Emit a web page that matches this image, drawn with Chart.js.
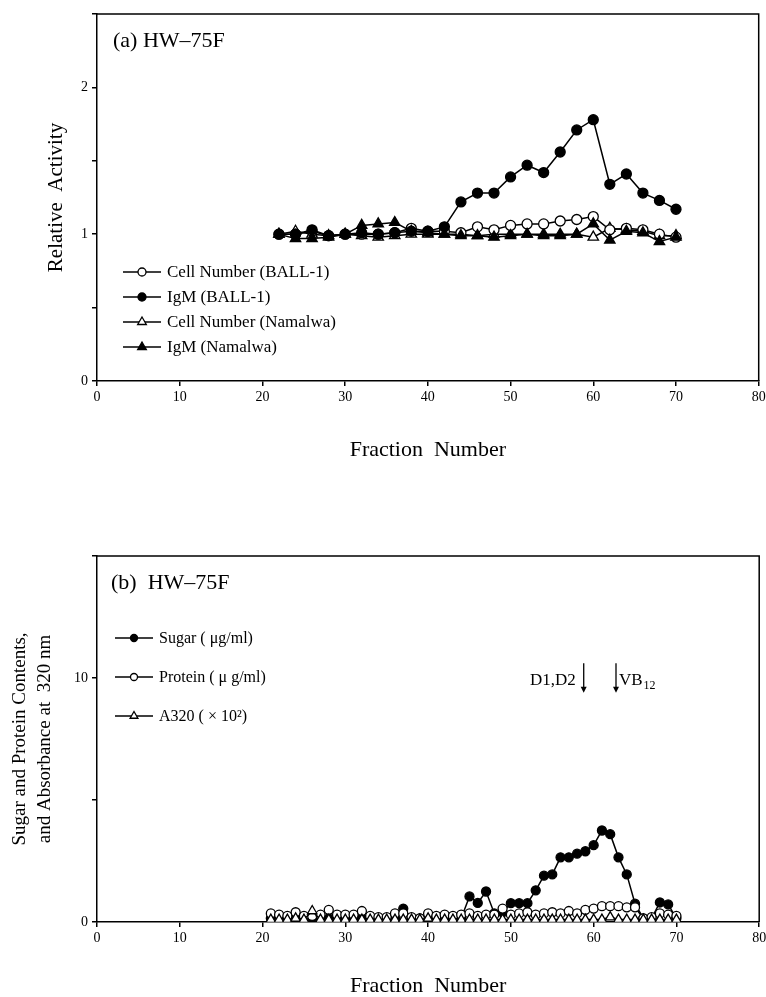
<!DOCTYPE html>
<html>
<head>
<meta charset="utf-8">
<script src="https://cdn.jsdelivr.net/npm/chart.js@4.4.0/dist/chart.umd.min.js"></script>
<style>
  html, body { margin: 0; padding: 0; background: #fff; }
  .box { position: absolute; left: 0; width: 766px; }
  #boxA { top: 0; height: 480px; }
  #boxB { top: 480px; height: 517px; }
</style>
</head>
<body>
<div class="box" id="boxA"><canvas id="chartA" width="766" height="480"></canvas></div>
<div class="box" id="boxB"><canvas id="chartB" width="766" height="517"></canvas></div>
<script>
// panel (a): relative activity, every 2nd fraction
const fractionsA = [22, 24, 26, 28, 30, 32, 34, 36, 38, 40, 42, 44, 46, 48, 50, 52, 54, 56, 58, 60, 62, 64, 66, 68, 70];
const cellBall = [1.00, 1.00, 1.02, 0.99, 1.00, 1.00, 1.00, 1.01, 1.04, 1.02, 1.02, 1.01, 1.05, 1.03, 1.06, 1.07, 1.07, 1.09, 1.10, 1.12, 1.03, 1.04, 1.03, 1.00, 0.98];
const igmBall = [1.00, 1.00, 1.03, 0.99, 1.00, 1.01, 1.00, 1.01, 1.02, 1.02, 1.05, 1.22, 1.28, 1.28, 1.39, 1.47, 1.42, 1.56, 1.71, 1.78, 1.34, 1.41, 1.28, 1.23, 1.17];
const cellNam = [1.00, 1.02, 1.00, 0.99, 1.00, 0.99, 0.98, 0.99, 1.00, 1.00, 1.00, 1.00, 0.99, 1.00, 1.00, 1.00, 1.00, 1.00, 1.00, 0.98, 1.04, 1.03, 1.02, 0.99, 0.99];
const igmNam = [1.00, 0.97, 0.97, 0.98, 1.00, 1.06, 1.07, 1.08, 1.02, 1.01, 1.00, 0.99, 0.99, 0.98, 0.99, 1.00, 0.99, 0.99, 1.00, 1.07, 0.96, 1.02, 1.01, 0.95, 0.98];

// panel (b): contents, every fraction 21..70
const fractionsB = [21, 22, 23, 24, 25, 26, 27, 28, 29, 30, 31, 32, 33, 34, 35, 36, 37, 38, 39, 40, 41, 42, 43, 44, 45, 46, 47, 48, 49, 50,
                    51, 52, 53, 54, 55, 56, 57, 58, 59, 60, 61, 62, 63, 64, 65, 66, 67, 68, 69, 70];
const sugar = [0.15, 0.15, 0.15, 0.15, 0.15, 0.15, 0.15, 0.15, 0.15, 0.15, 0.15, 0.15, 0.15, 0.15, 0.15, 0.15, 0.55, 0.15, 0.15, 0.15,
               0.15, 0.15, 0.15, 0.15, 1.05, 0.78, 1.25, 0.35, 0.4, 0.77, 0.77, 0.77, 1.3, 1.9, 1.95, 2.65, 2.65, 2.8, 2.9, 3.15,
               3.75, 3.6, 2.65, 1.95, 0.75, 0.15, 0.15, 0.8, 0.72, 0.15];
const protein = [0.35, 0.3, 0.25, 0.4, 0.25, 0.25, 0.3, 0.5, 0.3, 0.3, 0.3, 0.45, 0.25, 0.2, 0.2, 0.35, 0.35, 0.2, 0.15, 0.35,
                 0.25, 0.3, 0.25, 0.3, 0.35, 0.25, 0.3, 0.3, 0.55, 0.3, 0.35, 0.4, 0.3, 0.35, 0.4, 0.35, 0.45, 0.35, 0.5, 0.55,
                 0.65, 0.65, 0.65, 0.6, 0.6, 0.15, 0.2, 0.35, 0.3, 0.25];
const a320 = [0.1, 0.1, 0.1, 0.15, 0.1, 0.45, 0.1, 0.1, 0.1, 0.1, 0.1, 0.1, 0.1, 0.1, 0.1, 0.1, 0.1, 0.1, 0.1, 0.15,
              0.1, 0.1, 0.1, 0.1, 0.1, 0.1, 0.1, 0.1, 0.1, 0.1, 0.1, 0.1, 0.1, 0.1, 0.1, 0.1, 0.1, 0.1, 0.1, 0.1,
              0.1, 0.2, 0.1, 0.1, 0.1, 0.1, 0.1, 0.1, 0.1, 0.1];

const xTicks = [0, 10, 20, 30, 40, 50, 60, 70, 80];
const yTicksA = [0, 1, 2];
const yTicksB = [0, 10];

const FONT = "'Liberation Serif', 'Times New Roman', serif";

function pts(xs, ys) {
  return xs.map((x, i) => ({ x: x, y: ys[i] }));
}

function series(label, xs, ys, style, filled, r, order) {
  return {
    label: label,
    data: pts(xs, ys),
    order: order,
    borderColor: '#000',
    borderWidth: 1.5,
    pointStyle: style,
    pointRadius: r,
    pointBorderWidth: 1.3,
    pointBorderColor: '#000',
    pointBackgroundColor: filled ? '#000' : '#fff',
    tension: 0
  };
}

function drawMarker(ctx, style, x, y, r, filled) {
  ctx.beginPath();
  if (style === 'triangle') {
    let a = 0;
    for (let k = 0; k < 3; k++) {
      const px = x + Math.sin(a) * r, py = y - Math.cos(a) * r;
      if (k === 0) ctx.moveTo(px, py); else ctx.lineTo(px, py);
      a += Math.PI * 2 / 3;
    }
    ctx.closePath();
  } else {
    ctx.arc(x, y, r, 0, Math.PI * 2);
  }
  ctx.fillStyle = filled ? '#000' : '#fff';
  ctx.fill();
  ctx.lineWidth = 1.3;
  ctx.strokeStyle = '#000';
  ctx.stroke();
}

// box round the plot + legend + panel label
const frame = {
  id: 'frame',
  afterDraw(chart, args, opts) {
    const ctx = chart.ctx;
    const a = chart.chartArea;
    ctx.save();
    ctx.strokeStyle = '#000';
    ctx.lineWidth = 1.5;
    ctx.beginPath();
    ctx.moveTo(a.left, a.top);
    ctx.lineTo(a.right, a.top);
    ctx.lineTo(a.right, a.bottom);
    ctx.stroke();

    ctx.fillStyle = '#000';
    ctx.textBaseline = 'middle';
    ctx.font = opts.labelSize + 'px ' + FONT;
    ctx.fillText(opts.label, opts.labelX, opts.labelY);

    ctx.font = opts.legendSize + 'px ' + FONT;
    opts.legendOrder.forEach((di, i) => {
      const ds = chart.data.datasets[di];
      const y = opts.legendY + i * opts.legendDy;
      ctx.beginPath();
      ctx.moveTo(opts.legendX, y);
      ctx.lineTo(opts.legendX + opts.legendLen, y);
      ctx.lineWidth = 1.5;
      ctx.strokeStyle = '#000';
      ctx.stroke();
      drawMarker(ctx, ds.pointStyle, opts.legendX + opts.legendLen / 2, y, ds.pointRadius - 1,
                 ds.pointBackgroundColor === '#000');
      ctx.fillStyle = '#000';
      ctx.fillText(ds.label, opts.legendX + opts.legendLen + 6, y + 1);
    });
    ctx.restore();
  }
};

function xScale(height, titlePad, titleLh) {
  return {
    type: 'linear', min: 0, max: 80,
    afterBuildTicks: s => { s.ticks = xTicks.map(v => ({ value: v })); },
    ticks: { color: '#000', font: { family: FONT, size: 14 }, padding: 3, maxRotation: 0 },
    grid: { drawOnChartArea: false, drawTicks: true, tickLength: 5, color: '#000', lineWidth: 1.5 },
    border: { color: '#000', width: 1.5 },
    title: { display: true, text: 'Fraction  Number', color: '#000',
             font: { family: FONT, size: 22, lineHeight: titleLh }, padding: { top: 0, bottom: titlePad } },
    afterFit: s => { s.height = height; s.paddingLeft = 0; s.paddingRight = 0; }
  };
}

function yScale(max, step, labels, title, titleSize, titlePad, titleLh) {
  return {
    min: 0, max: max,
    ticks: { stepSize: step, color: '#000', font: { family: FONT, size: 14 }, padding: 4,
             callback: v => labels.includes(v) ? String(v) : '' },
    grid: { drawOnChartArea: false, drawTicks: true, tickLength: 5, color: '#000', lineWidth: 1.5 },
    border: { color: '#000', width: 1.5 },
    title: { display: true, text: title, color: '#000',
             font: { family: FONT, size: titleSize, lineHeight: titleLh }, padding: { top: titlePad, bottom: 0 } },
    afterFit: s => { s.width = 97; s.paddingTop = 0; s.paddingBottom = 0; }
  };
}

new Chart(document.getElementById('chartA'), {
  type: 'line',
  data: {
    datasets: [
      series('Cell Number (BALL-1)', fractionsA, cellBall, 'circle', false, 5, 2),
      series('IgM (BALL-1)', fractionsA, igmBall, 'circle', true, 5, 1),
      series('Cell Number (Namalwa)', fractionsA, cellNam, 'triangle', false, 6, 3),
      series('IgM (Namalwa)', fractionsA, igmNam, 'triangle', true, 6, 0)
    ]
  },
  options: {
    responsive: false,
    animation: false,
    layout: { padding: { top: 14, right: 3, left: 0, bottom: 0 } },
    plugins: {
      legend: { display: false },
      tooltip: { enabled: false },
      frame: { label: '(a) HW\u201375F', labelX: 113, labelY: 41, labelSize: 22, legendOrder: [0, 1, 2, 3],
               legendX: 123, legendY: 272, legendDy: 25, legendLen: 38, legendSize: 17 }
    },
    scales: {
      x: xScale(99, 17, 1.2),
      y: yScale(2.5, 0.5, yTicksA, 'Relative  Activity', 21, 44, 1.2)
    }
  },
  plugins: [frame]
});

// arrows for D1,D2 and VB12
const marks = {
  id: 'marks',
  afterDraw(chart) {
    const ctx = chart.ctx;
    const xs = chart.scales.x, ys = chart.scales.y;
    ctx.save();
    ctx.strokeStyle = '#000';
    ctx.fillStyle = '#000';
    ctx.lineWidth = 1.3;
    [58.8, 62.7].forEach(f => {
      const x = xs.getPixelForValue(f);
      const y0 = ys.getPixelForValue(10.6), y1 = ys.getPixelForValue(9.4);
      ctx.beginPath();
      ctx.moveTo(x, y0);
      ctx.lineTo(x, y1 - 4);
      ctx.stroke();
      ctx.beginPath();
      ctx.moveTo(x - 3, y1 - 6);
      ctx.lineTo(x + 3, y1 - 6);
      ctx.lineTo(x, y1);
      ctx.closePath();
      ctx.fill();
    });
    ctx.textBaseline = 'middle';
    ctx.font = '17px ' + FONT;
    ctx.textAlign = 'right';
    ctx.fillText('D1,D2', xs.getPixelForValue(58.8) - 8, ys.getPixelForValue(9.9));
    ctx.textAlign = 'left';
    const vx = xs.getPixelForValue(62.7) + 3;
    ctx.fillText('VB', vx, ys.getPixelForValue(9.9));
    const w = ctx.measureText('VB').width;
    ctx.font = '12px ' + FONT;
    ctx.fillText('12', vx + w + 1, ys.getPixelForValue(9.9) + 5);
    ctx.restore();
  }
};

new Chart(document.getElementById('chartB'), {
  type: 'line',
  data: {
    datasets: [
      series('Sugar ( \u03bcg/ml)', fractionsB, sugar, 'circle', true, 4.5, 2),
      series('Protein ( \u03bc g/ml)', fractionsB, protein, 'circle', false, 4.5, 1),
      series('A320 ( \u00d7 10\u00b2)', fractionsB, a320, 'triangle', false, 5.5, 0)
    ]
  },
  options: {
    responsive: false,
    animation: false,
    layout: { padding: { top: 76, right: 3, left: 0, bottom: 0 } },
    plugins: {
      legend: { display: false },
      tooltip: { enabled: false },
      frame: { label: '(b)  HW\u201375F', labelX: 111, labelY: 103, labelSize: 22, legendOrder: [0, 1, 2],
               legendX: 115, legendY: 158, legendDy: 39, legendLen: 38, legendSize: 16 }
    },
    scales: {
      x: xScale(75, 0, 1.0),
      y: yScale(15, 5, yTicksB, ['Sugar and Protein Contents,', 'and Absorbance at  320 nm'], 19, 8, 1.3)
    }
  },
  plugins: [frame, marks]
});
</script>
</body>
</html>
